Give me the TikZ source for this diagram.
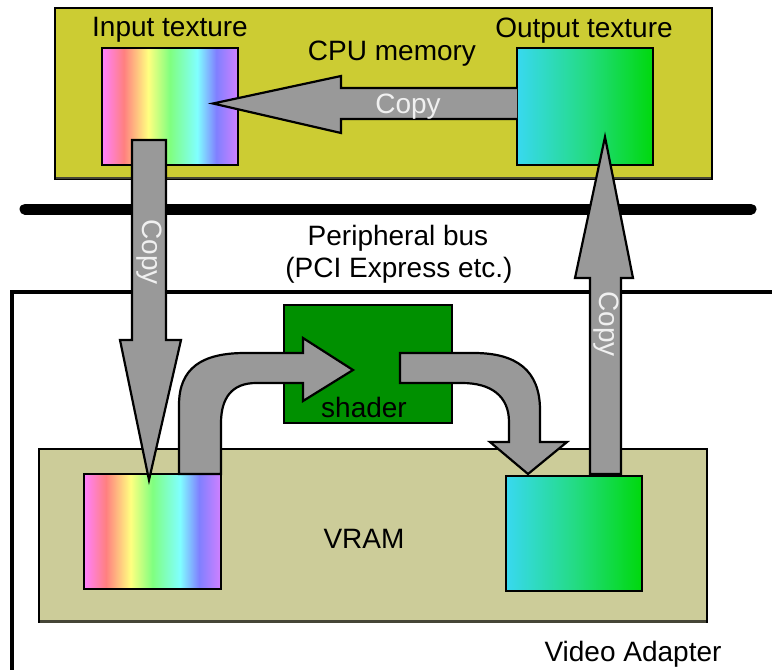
\documentclass[tikz,border=0pt]{standalone}
\usepackage{fontspec}
\setmainfont{Liberation Sans}
\definecolor{cpuyellow}{RGB}{204,204,51}
\definecolor{vramkhaki}{RGB}{204,204,153}
\definecolor{shadergreen}{RGB}{0,144,0}
\definecolor{arrgray}{RGB}{153,153,153}
\definecolor{copywhite}{RGB}{240,240,240}
\definecolor{shadowdark}{RGB}{70,70,55}
\pgfdeclarehorizontalshading{rainbowtex}{100bp}{rgb(0bp)=(1,0.5,1); rgb(25bp)=(1,0.5,1); rgb(33bp)=(1,0.5,0.5); rgb(42bp)=(1,1,0.5); rgb(50bp)=(0.5,1,0.5); rgb(60bp)=(0.5,1,1); rgb(67bp)=(0.5,0.5,1); rgb(75bp)=(0.82,0.5,1); rgb(100bp)=(0.82,0.5,1)}
\pgfdeclarehorizontalshading{outtex}{100bp}{rgb(0bp)=(0.22,0.85,0.94); rgb(25bp)=(0.22,0.85,0.94); rgb(50bp)=(0.14,0.86,0.52); rgb(75bp)=(0,0.85,0.05); rgb(100bp)=(0,0.85,0.05)}
\begin{document}
\begin{tikzpicture}[x=1pt,y=-1pt,
  font=\fontsize{28}{32}\selectfont,
  panel/.style={draw=black,line width=2.2pt,inner sep=0pt,outer sep=0pt},
  tex/.style={panel,shade},
  lbl/.style={inner sep=0pt,anchor=base},
  copylbl/.style={inner sep=0pt,text=copywhite,rotate=-90},
  arrfill/.style={fill=arrgray},
  arredge/.style={draw=black,line width=2.2pt,line join=miter,miter limit=20}]
\useasboundingbox[fill=white] (0,0) rectangle (772,670);
% CPU memory
\node[panel,fill=cpuyellow,minimum width=657pt,minimum height=171pt] (cpu) at (383.5,93.5) {};
\draw[shadowdark,line width=2pt] (56,178) -- (711,178);
\node[tex,shading=rainbowtex,minimum width=136pt,minimum height=117pt] (cpuin) at (170,106.5) {};
\node[tex,shading=outtex,minimum width=136pt,minimum height=117pt] (cpuout) at (585,106.5) {};
% peripheral bus
\coordinate (busl) at (25,209);
\coordinate (busr) at (751,209);
\draw[line width=11pt,line cap=round] (busl) -- (busr);
% video adapter frame
\coordinate (vaa) at (12,675);
\coordinate (vab) at (12,292);
\coordinate (vac) at (780,292);
\draw[line width=4pt] (vaa) -- (vab) -- (vac);
% VRAM
\node[panel,fill=vramkhaki,minimum width=668pt,minimum height=173pt] (vram) at (373,535.5) {};
\draw[shadowdark,line width=3pt] (40,621) -- (706,621);
\node[tex,shading=rainbowtex,minimum width=137pt,minimum height=115pt] (vin) at (152.5,531.5) {};
\node[tex,shading=outtex,minimum width=136pt,minimum height=115pt] (vout) at (574,533.5) {};
% shader
\node[panel,fill=shadergreen,minimum width=168pt,minimum height=118pt] (shader) at (368,364) {};
% arrow: output -> input (CPU)
\fill[arrfill] (517,88) -- (341,88) -- (341,76) -- (213,103.5) -- (341,133) -- (341,119) -- (517,119) -- cycle;
\draw[arredge] (517,88) -- (341,88) -- (341,76) -- (213,103.5) -- (341,133) -- (341,119) -- (517,119);
% arrow: CPU input -> VRAM input
\filldraw[arrfill,arredge] (132,140) -- (132,340) -- (120,340) -- (149,480) -- (181,340) -- (166,340) -- (166,140) -- cycle;
% arrow: VRAM output -> CPU output
\filldraw[arrfill,arredge] (590,474) -- (590,278) -- (575,278) -- (605,137) -- (633,278) -- (621,278) -- (621,474) -- cycle;
% arrow: VRAM input -> shader
\filldraw[arrfill,arredge] (179,474) -- (179,405) .. controls (179,368) and (202,353) .. (245,353) -- (303,353) -- (303,338) -- (353,370) -- (303,401) -- (303,383) -- (256,383) .. controls (232,383) and (221,398) .. (221,423) -- (221,474) -- cycle;
% arrow: shader -> VRAM output
\filldraw[arrfill,arredge] (400,353) -- (474,353) .. controls (516,353) and (540,370) .. (540,410) -- (540,442) -- (567,442) -- (528,474) -- (490,442) -- (509,442) -- (509,422) .. controls (509,396) and (491,383) .. (462,383) -- (400,383) -- cycle;
% labels
\node[lbl] (lin) at (170,36) {Input texture};
\node[lbl] (lout) at (584,37) {Output texture};
\node[lbl] (lcpu) at (392,60) {CPU memory};
\node[lbl,text=copywhite] (lcopy1) at (408,113) {Copy};
\node[lbl] (lbus1) at (398,245) {Peripheral bus};
\node[lbl] (lbus2) at (399,277) {(PCI Express etc.)};
\node[copylbl] (lcopy2) at (149,252) {Copy};
\node[copylbl] (lcopy3) at (606,324) {Copy};
\node[lbl] (lshader) at (364,417) {shader};
\node[lbl] (lvram) at (364,548) {VRAM};
\node[lbl] (lva) at (633,661) {Video Adapter};
\end{tikzpicture}
\end{document}
